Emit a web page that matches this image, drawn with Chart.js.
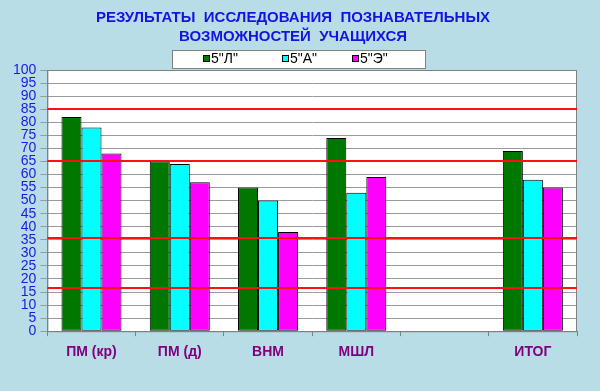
<!DOCTYPE html>
<html>
<head>
<meta charset="utf-8">
<script src="https://cdn.jsdelivr.net/npm/chart.js@4"></script>
<style>
  html, body { margin: 0; padding: 0; background: #b8dde6; }
  #wrap { width: 600px; height: 391px; }
</style>
</head>
<body>
<div id="wrap"><canvas id="chart" width="600" height="391"></canvas></div>
<script>
// Категории и значения
const categories = ["ПМ (кр)", "ПМ (д)", "ВНМ", "МШЛ", "", "ИТОГ"];
const classL = [82, 65, 55, 74, null, 69];
const classA = [78, 64, 50, 53, null, 58];
const classE = [68, 57, 38, 59, null, 55];
const seriesNames = ['5"Л"', '5"А"', '5"Э"'];
const seriesColors = ["#007800", "#00ffff", "#ff00ff"];
const redLevels = [85, 65, 35.5, 16.5];

// fond blanc de la zone de tracé + lignes rouges + légende encadrée
const decor = {
  id: "decor",
  beforeDraw(chart) {
    const { ctx, chartArea: a } = chart;
    ctx.save();
    ctx.fillStyle = "#b8dde6";
    ctx.fillRect(0, 0, chart.width, chart.height);
    ctx.fillStyle = "#ffffff";
    ctx.fillRect(a.left, a.top, a.right - a.left, a.bottom - a.top);
    ctx.restore();
  },
  afterDatasetsDraw(chart) {
    const { ctx, chartArea: a, scales } = chart;
    ctx.save();
    ctx.strokeStyle = "#808080";
    ctx.lineWidth = 1;
    ctx.strokeRect(a.left + 0.5, a.top + 0.5, a.right - a.left - 1, a.bottom - a.top);
    ctx.strokeStyle = "#ff1010";
    ctx.lineWidth = 2;
    redLevels.forEach(v => {
      const y = Math.round(scales.y.getPixelForValue(v));
      ctx.beginPath();
      ctx.moveTo(a.left, y);
      ctx.lineTo(a.right, y);
      ctx.stroke();
    });
    ctx.restore();
  },
  afterDraw(chart) {
    const ctx = chart.ctx;
    ctx.save();
    ctx.fillStyle = "#ffffff";
    ctx.fillRect(172, 50, 253, 18);
    ctx.strokeStyle = "#808080";
    ctx.lineWidth = 1;
    ctx.strokeRect(172.5, 50.5, 253, 18);
    const slots = [203, 282, 352];
    ctx.font = "14px Arial, 'Liberation Sans', sans-serif";
    ctx.textBaseline = "middle";
    seriesNames.forEach((name, i) => {
      ctx.fillStyle = seriesColors[i];
      ctx.fillRect(slots[i], 55, 7, 7);
      ctx.strokeStyle = "#000000";
      ctx.strokeRect(slots[i] + 0.5, 55.5, 6, 6);
      ctx.fillStyle = "#000000";
      ctx.fillText(name, slots[i] + 8, 59);
    });
    ctx.restore();
  }
};

const ctx = document.getElementById("chart");
new Chart(ctx, {
  type: "bar",
  data: {
    labels: categories,
    datasets: [
      { label: seriesNames[0], data: classL, backgroundColor: seriesColors[0] },
      { label: seriesNames[1], data: classA, backgroundColor: seriesColors[1] },
      { label: seriesNames[2], data: classE, backgroundColor: seriesColors[2] },
    ].map(d => Object.assign(d, {
      borderColor: "#000000",
      borderWidth: 1,
      borderSkipped: false,
      categoryPercentage: 0.68,
      barPercentage: 1,
    })),
  },
  options: {
    responsive: false,
    animation: false,
    layout: { padding: { left: 9, right: 23, bottom: 22, top: 0 } },
    plugins: {
      legend: { display: false },
      tooltip: { enabled: false },
      title: {
        display: true,
        text: ["РЕЗУЛЬТАТЫ  ИССЛЕДОВАНИЯ  ПОЗНАВАТЕЛЬНЫХ", "ВОЗМОЖНОСТЕЙ  УЧАЩИХСЯ"],
        color: "#1414e0",
        font: { family: "Arial, 'Liberation Sans', sans-serif", size: 15, weight: "bold", lineHeight: 1.3 },
        padding: { top: 8, bottom: 23 },
      },
    },
    scales: {
      x: {
        grid: { drawOnChartArea: false, drawTicks: true, tickLength: 5, color: "#808080" },
        border: { color: "#808080" },
        ticks: {
          color: "#800080",
          padding: 8,
          font: { family: "Arial, 'Liberation Sans', sans-serif", size: 14, weight: "bold" },
        },
      },
      y: {
        min: 0,
        max: 100,
        grid: { color: "#9a9a9a", tickLength: 7 },
        border: { color: "#808080" },
        ticks: {
          stepSize: 5,
          autoSkip: false,
          color: "#1a1ae0",
          padding: 4,
          font: { family: "Arial, 'Liberation Sans', sans-serif", size: 14, lineHeight: 1 },
        },
      },
    },
  },
  plugins: [decor],
});
</script>
</body>
</html>
